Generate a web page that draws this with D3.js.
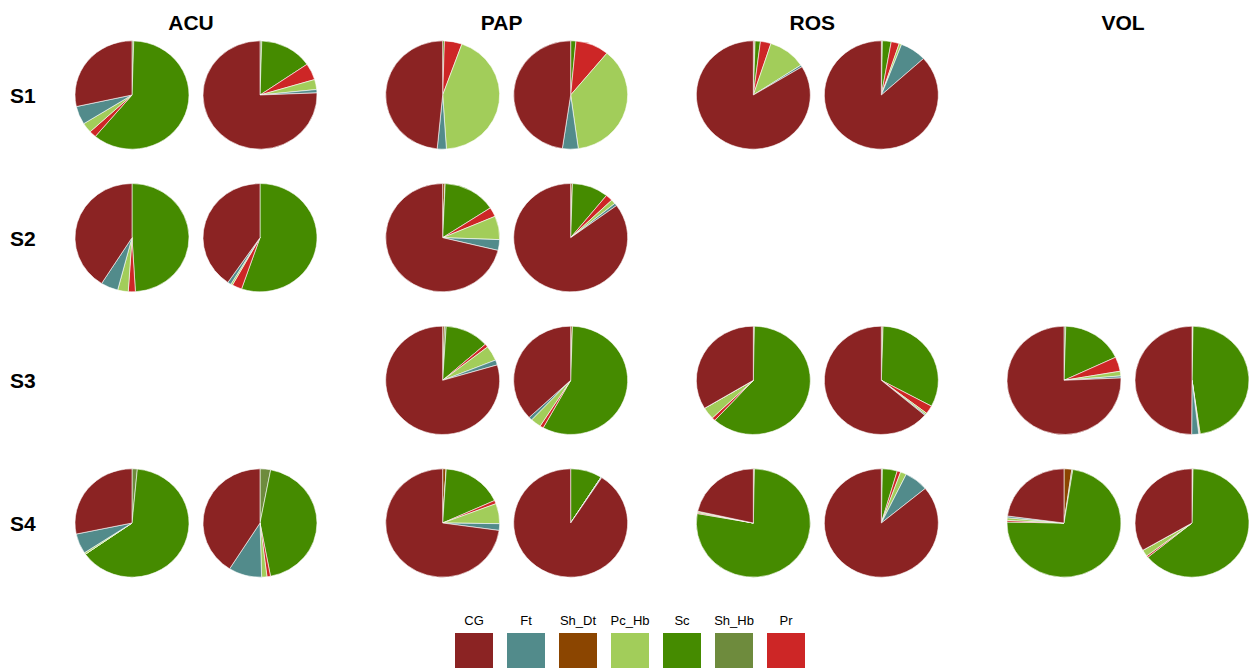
<!DOCTYPE html>
<html>
<head>
<meta charset="utf-8">
<script src="https://cdn.jsdelivr.net/npm/d3@7"></script>
<style>
  html, body { margin: 0; padding: 0; background: #fff; }
  svg { display: block; font-family: "Liberation Sans", Arial, sans-serif; }
</style>
</head>
<body>
<svg id="chart" width="1250" height="671"></svg>
<script>
// ---- data ----
const sites = ["ACU", "PAP", "ROS", "VOL"];
const seasons = ["S1", "S2", "S3", "S4"];
const categories = ["CG", "Ft", "Sh_Dt", "Pc_Hb", "Sc", "Sh_Hb", "Pr"];
const sliceOrder = ["Sh_Dt", "Sh_Hb", "Sc", "Pr", "Pc_Hb", "Ft", "CG"];
const colors = ["#8B2323", "#528B8B", "#8B4500", "#A2CD5A", "#458B00", "#6E8B3D", "#CD2626"];

// one entry per pie
const pieSite   = ["ACU","ACU","PAP","PAP","ROS","ROS","ACU","ACU","PAP","PAP","PAP","PAP","ROS","ROS","VOL","VOL","ACU","ACU","PAP","PAP","ROS","ROS","VOL","VOL"];
const pieSeason = ["S1","S1","S1","S1","S1","S1","S2","S2","S2","S2","S3","S3","S3","S3","S3","S3","S4","S4","S4","S4","S4","S4","S4","S4"];
const pieRep    = [1,2,1,2,1,2,1,2,1,2,1,2,1,2,1,2,1,2,1,2,1,2,1,2];

const CG    = [28.6, 76, 48.6, 47.8, 83.7, 87, 41, 40.5, 71, 85, 80, 37, 33.8, 64, 75.7, 50, 28.3, 41, 72.8, 91, 21.5, 86, 23, 33.5];
const Ft    = [5.5, 1, 2.6, 4.5, 0.6, 7.5, 4.9, 1, 3.2, 0.8, 1.5, 1, 0, 0.3, 0.6, 2, 6, 9.4, 2, 0.2, 0, 6.8, 0.5, 0];
const Sh_Dt = [0, 0, 0, 0, 0.5, 0, 0, 0, 0.7, 0.5, 0.5, 0.5, 0, 0.5, 0, 0.3, 0, 0, 1, 0, 0.3, 0, 2.2, 0.3];
const Pc_Hb = [3, 3, 43.6, 37, 10.7, 0.7, 3, 0.5, 7, 1.3, 4.5, 3, 3.6, 0.5, 1.4, 0.2, 0.5, 1.5, 6, 0, 0.4, 1.7, 0.8, 2];
const Sc    = [61, 15, 0.5, 1.5, 1.5, 2.5, 49, 55.3, 15, 10.3, 12.5, 57.5, 61.8, 32.5, 17.5, 47.5, 63.8, 44, 17.2, 9, 77.5, 4.2, 73, 64];
const Sh_Hb = [0.5, 0.5, 0, 0, 0, 0.3, 0, 0, 0, 0, 0.5, 0, 0.3, 0, 0.5, 0, 1.5, 3, 0, 0, 0, 0.3, 0.3, 0];
const Pr    = [2, 5, 5, 9.5, 3, 2.3, 2, 2.8, 2.8, 2, 1, 1, 1, 2.5, 4.3, 0.2, 0, 1, 1, 0, 0.3, 1, 0.5, 0.5];

const series = { CG, Ft, Sh_Dt, Pc_Hb, Sc, Sh_Hb, Pr };

// ---- layout ----
const svg = d3.select("#chart");
const x = d3.scalePoint().domain(sites).range([196, 1128]);
const y = d3.scalePoint().domain(seasons).range([95, 523]);
const repOffset = d3.scalePoint().domain([1, 2]).range([-64, 64]);
const color = d3.scaleOrdinal().domain(categories).range(colors);
const radius = 57;
const ySquash = 0.95;

const pie = d3.pie().sort(null).value(d => d.value);
const arc = d3.arc().innerRadius(0).outerRadius(radius);

// column headers
svg.selectAll("text.col").data(sites).join("text")
  .attr("class", "col")
  .attr("x", d => x(d) - 5)
  .attr("y", 30)
  .attr("text-anchor", "middle")
  .attr("font-size", 21)
  .attr("font-weight", "bold")
  .text(d => d);

// row labels
svg.selectAll("text.row").data(seasons).join("text")
  .attr("class", "row")
  .attr("x", 10)
  .attr("y", d => y(d) + 8)
  .attr("font-size", 21)
  .attr("font-weight", "bold")
  .text(d => d);

// pies
const pies = pieSite.map((s, i) => ({
  site: s, season: pieSeason[i], rep: pieRep[i],
  slices: sliceOrder.map(c => ({ cat: c, value: series[c][i] }))
}));

const g = svg.selectAll("g.pie").data(pies).join("g")
  .attr("class", "pie")
  .attr("transform", d => `translate(${x(d.site) + repOffset(d.rep)},${y(d.season)}) scale(1,${ySquash})`);

g.selectAll("path").data(d => pie(d.slices)).join("path")
  .attr("d", arc)
  .attr("fill", d => color(d.data.cat))
  .attr("stroke", "#fff")
  .attr("stroke-width", 0.6);

// legend
const lx = d3.scalePoint().domain(categories).range([455, 767]);
const lg = svg.append("g");
lg.selectAll("rect").data(categories).join("rect")
  .attr("x", d => lx(d))
  .attr("y", 633)
  .attr("width", 38)
  .attr("height", 35)
  .attr("fill", d => color(d));
lg.selectAll("text").data(categories).join("text")
  .attr("x", d => lx(d) + 19)
  .attr("y", 625)
  .attr("text-anchor", "middle")
  .attr("font-size", 13)
  .text(d => d);
</script>
</body>
</html>
